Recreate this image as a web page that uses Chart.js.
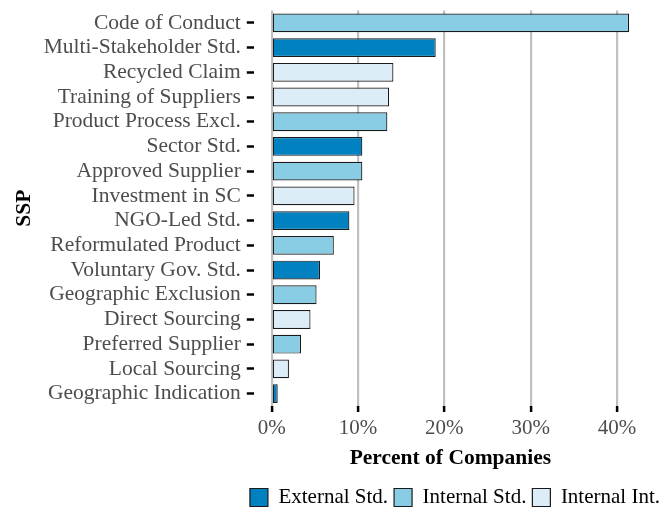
<!DOCTYPE html>
<html>
<head>
<meta charset="utf-8">
<script src="https://cdn.jsdelivr.net/npm/chart.js@4"></script>
<style>
  html, body { margin: 0; padding: 0; background: #fff; }
  #wrap { width: 661px; height: 508px; }
</style>
</head>
<body>
<div id="wrap"><canvas id="grafico" width="661" height="508"></canvas></div>
<script>
const categorias = [
  "Code of Conduct", "Multi-Stakeholder Std.", "Recycled Claim", "Training of Suppliers",
  "Product Process Excl.", "Sector Std.", "Approved Supplier", "Investment in SC",
  "NGO-Led Std.", "Reformulated Product", "Voluntary Gov. Std.", "Geographic Exclusion",
  "Direct Sourcing", "Preferred Supplier", "Local Sourcing", "Geographic Indication"
];
const porcentajes = [41.4, 19.0, 14.1, 13.6, 13.4, 10.5, 10.5, 9.6, 9.0, 7.2, 5.6, 5.2, 4.5, 3.4, 2.0, 0.7];
const tipos = [
  "Internal Std.", "External Std.", "Internal Int.", "Internal Int.",
  "Internal Std.", "External Std.", "Internal Std.", "Internal Int.",
  "External Std.", "Internal Std.", "External Std.", "Internal Std.",
  "Internal Int.", "Internal Std.", "Internal Int.", "External Std."
];
const grupos = ["External Std.", "Internal Std.", "Internal Int."];
const colores = ["#0181c0", "#89cde5", "#ddedf8"];
const ticksX = [0, 10, 20, 30, 40];

const fuente = "'Liberation Serif', 'Times New Roman', serif";

const datasets = grupos.map((g, i) => ({
  label: g,
  data: porcentajes.map((v, j) => tipos[j] === g ? v : null),
  backgroundColor: colores[i],
  borderColor: "#1a1a1a",
  borderWidth: 1.2,
  borderSkipped: false,
  grouped: false,
  categoryPercentage: 1,
  barPercentage: 0.76
}));

// mueve la leyenda abajo a la derecha, como en ggplot
const moverLeyenda = {
  id: "moverLeyenda",
  afterLayout(chart) {
    const l = chart.legend;
    l.left += 19; l.right += 19;
    l.top += 10; l.bottom += 10;
  }
};

const ctx = document.getElementById("grafico").getContext("2d");
new Chart(ctx, {
  type: "bar",
  data: { labels: categorias, datasets: datasets },
  plugins: [moverLeyenda],
  options: {
    indexAxis: "y",
    responsive: false,
    animation: false,
    layout: { padding: { top: 10.5, right: 14, left: 12, bottom: 0 } },
    scales: {
      x: {
        type: "linear",
        min: -2.07,
        max: 43.47,
        afterBuildTicks: axis => { axis.ticks = ticksX.map(v => ({ value: v })); },
        afterFit: scale => { scale.height = 65; },
        border: { display: false },
        grid: {
          color: "#c0c0c0",
          lineWidth: 2.2,
          drawTicks: true,
          tickLength: 6,
          tickColor: "#000",
          tickWidth: 2.5
        },
        ticks: {
          color: "#4d4d4d",
          font: { family: fuente, size: 21 },
          padding: 4,
          callback: v => v + "%"
        },
        title: {
          display: true,
          text: "Percent of Companies",
          color: "#000",
          font: { family: fuente, size: 21.5, weight: "bold" },
          padding: { top: 0, bottom: 0 }
        }
      },
      y: {
        afterFit: scale => {
          scale.width = 241.8;
          scale.paddingTop = 0;
          scale.paddingBottom = 0;
        },
        border: { display: false },
        grid: {
          offset: false,
          drawOnChartArea: false,
          drawTicks: true,
          tickLength: 7,
          tickColor: "#000",
          tickWidth: 2.5
        },
        ticks: {
          autoSkip: false,
          color: "#4d4d4d",
          font: { family: fuente, size: 21.5 },
          padding: 6
        },
        title: {
          display: true,
          text: "SSP",
          color: "#000",
          font: { family: fuente, size: 21.5, weight: "bold" },
          padding: { top: 0, bottom: 0 }
        }
      }
    },
    plugins: {
      legend: {
        position: "bottom",
        align: "end",
        labels: {
          color: "#000",
          font: { family: fuente, size: 21 },
          boxWidth: 18,
          boxHeight: 18,
          padding: 6
        }
      },
      tooltip: { enabled: false }
    }
  }
});
</script>
</body>
</html>
